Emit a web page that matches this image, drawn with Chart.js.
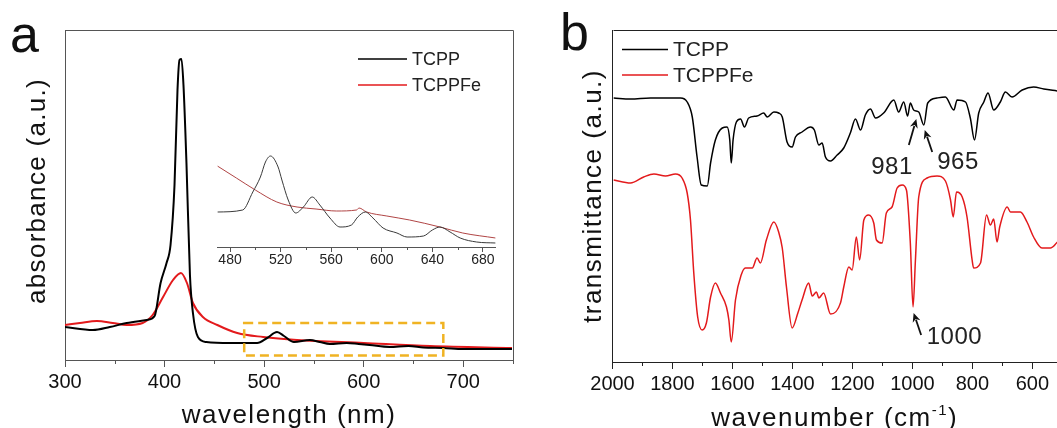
<!DOCTYPE html>
<html>
<head>
<meta charset="utf-8">
<script src="https://cdn.jsdelivr.net/npm/chart.js@4.4.0/dist/chart.umd.min.js"></script>
<style>
  html, body { margin: 0; padding: 0; background: #fff; }
  #wrap { position: relative; width: 1057px; height: 428px; overflow: hidden; }
  #wrap canvas { position: absolute; left: 0; top: 0; }
</style>
</head>
<body>
<div id="wrap">
  <canvas id="uvChart" width="1057" height="428"></canvas>
  <canvas id="insetChart" width="1057" height="428"></canvas>
  <canvas id="irChart" width="1057" height="428"></canvas>
</div>
<script>
// --- DATA (a): UV-vis ---
const seriesNames = ['TCPP', 'TCPPFe'];

const uvWaveTCPP = [300, 328, 345, 362, 382, 390, 396, 402, 406, 410, 413, 415, 417, 419, 422, 425.5, 428.5, 433.5, 442, 466, 493, 503, 513, 520, 530, 546, 556, 566, 583, 595, 606, 626, 645, 660, 680, 700, 749];
const uvAbsTCPP  = [33, 30, 33, 37, 40, 44, 77, 97, 115, 175, 270, 300, 301, 275, 197, 85, 47, 23, 18, 17, 17, 22, 28, 24, 18, 20, 18, 16, 17, 16, 15, 13, 14, 12.5, 12, 11, 11];

const uvWaveFe = [300, 315, 332, 348, 362, 378, 388, 398.5, 408.5, 416.5, 422.5, 428.5, 438.5, 453, 473, 499, 533, 600, 667, 749];
const uvAbsFe  = [35, 37, 39, 37, 35, 37, 45, 63, 80, 87, 77, 57, 43, 35, 27, 23, 20, 17, 14, 12];

const uvMinorTicks = [350, 450, 550, 650, 750];
const zoomRange = [480, 680];
const zoomLevels = [4.5, 37];

// --- DATA (a, inset): 470-690 nm ---
const insetWaveTCPP = [470, 490, 498, 504, 508, 512, 518, 521, 526, 532, 538, 545, 551, 559, 567, 576, 581, 587, 593, 601, 612, 620, 633, 640, 646, 654, 662, 675, 690];
const insetAbsTCPP  = [35, 37, 55, 70, 85, 91, 80, 67, 47, 34, 40, 50, 42, 29, 20, 22, 30, 35, 29, 19, 14, 10, 11, 17, 20, 15, 9, 5, 4];

const insetWaveFe = [470, 485, 500, 517, 533, 548, 564, 580, 582, 588, 604, 622, 646, 664, 690];
const insetAbsFe  = [81, 69, 57, 45, 40, 38, 36, 37, 39, 35, 31, 27, 20, 14, 9];

const insetMinorTicks = [500, 540, 580, 620, 660];

// --- DATA (b): FTIR ---
const irWaveTCPP = [1996, 1940, 1873, 1807, 1773, 1751, 1734, 1718, 1704, 1684, 1673, 1657, 1634, 1618, 1609, 1604, 1598, 1587, 1573, 1560, 1546, 1518, 1496, 1484, 1462, 1446, 1434, 1418, 1401, 1390, 1368, 1340, 1327, 1312, 1301, 1290, 1273, 1251, 1229, 1207, 1190, 1173, 1157, 1140, 1123, 1096, 1062, 1046, 1029, 1016, 1007, 996, 979, 962, 949, 918, 890, 862, 851, 823, 807, 793, 779, 762, 748, 729, 707, 690, 668, 634, 596, 562, 518];
const irTransTCPP = [264, 263, 264, 264, 264, 260, 245, 205, 177, 176, 199, 222, 234, 235, 222, 199, 222, 240, 243, 235, 244, 246, 249, 245, 250, 249, 245, 220, 215, 225, 230, 235, 232, 217, 219, 205, 201, 207, 214, 229, 243, 232, 247, 253, 244, 249, 262, 250, 260, 246, 259, 252, 250, 237, 259, 264, 265, 252, 262, 260, 244, 222, 249, 260, 269, 252, 260, 270, 265, 272, 275, 273, 271];

const irWaveFe = [1996, 1940, 1896, 1862, 1823, 1790, 1768, 1751, 1740, 1729, 1716, 1701, 1687, 1673, 1657, 1640, 1620, 1612, 1604, 1590, 1571, 1557, 1534, 1518, 1507, 1487, 1462, 1446, 1434, 1420, 1401, 1382, 1368, 1346, 1334, 1320, 1312, 1296, 1273, 1240, 1229, 1212, 1201, 1187, 1176, 1162, 1146, 1129, 1120, 1101, 1087, 1068, 1051, 1034, 1020, 1007, 998, 990, 979, 951, 918, 890, 873, 864, 853, 834, 818, 801, 796, 773, 753, 740, 729, 718, 709, 684, 673, 640, 618, 596, 568, 540, 516];
const irTransFe = [182, 179, 185, 188, 186, 188, 184, 169, 142, 89, 45, 32, 39, 65, 79, 69, 55, 42, 20, 62, 87, 94, 94, 104, 99, 122, 140, 130, 114, 75, 34, 49, 62, 79, 66, 70, 64, 69, 48, 59, 75, 95, 92, 125, 102, 142, 147, 139, 122, 119, 149, 155, 174, 177, 172, 119, 55, 102, 165, 184, 186, 181, 162, 145, 170, 165, 145, 102, 94, 99, 147, 137, 143, 120, 135, 155, 150, 150, 140, 125, 114, 114, 120];

const irMinorTicks = [1900, 1700, 1500, 1300, 1100, 900, 700];

// peak marks: label, arrow tail, arrow head, label centre (wavenumber, value)
const markLabels = ['981', '965', '1000'];
const markTails  = [[1012, 217], [934, 210], [971, 27]];
const markHeads  = [[987, 243], [959, 232], [996, 49]];
const markTextAt = [[1068, 195], [848, 200], [860, 25]];

// --- ESTILO ---
const FONT = '"Liberation Sans", Arial, sans-serif';
const BLACK = '#000000';
const RED = '#e31a1c';

function toPts(xs, ys) {
    return xs.map((x, i) => ({ x, y: ys[i] }));
}

function spacedText(ctx, text, x, y, spacing) {
    if ('letterSpacing' in ctx) {
        ctx.letterSpacing = spacing + 'px';
        ctx.fillText(text, x, y);
        ctx.letterSpacing = '0px';
    } else {
        ctx.fillText(text, x, y);
    }
}

function drawMinor(chart, values, len, color) {
    const sx = chart.scales.x;
    const y0 = chart.chartArea.bottom;
    const ctx = chart.ctx;
    ctx.save();
    ctx.strokeStyle = color;
    ctx.lineWidth = 1;
    values.forEach(v => {
        const px = Math.round(sx.getPixelForValue(v)) + 0.5;
        ctx.beginPath();
        ctx.moveTo(px, y0);
        ctx.lineTo(px, y0 + len);
        ctx.stroke();
    });
    ctx.restore();
}

function drawLegend(ctx, x0, y0, gap, lineLen, size) {
    ctx.save();
    ctx.font = size + 'px ' + FONT;
    ctx.textBaseline = 'middle';
    ctx.fillStyle = '#222';
    seriesNames.forEach((name, i) => {
        const y = y0 + i * gap;
        ctx.strokeStyle = i === 0 ? BLACK : RED;
        ctx.lineWidth = 1.5;
        ctx.beginPath();
        ctx.moveTo(x0, y);
        ctx.lineTo(x0 + lineLen, y);
        ctx.stroke();
        ctx.fillText(name, x0 + lineLen + 5, y + 1);
    });
    ctx.restore();
}

function drawArrow(ctx, x1, y1, x2, y2) {
    const ang = Math.atan2(y2 - y1, x2 - x1);
    const hl = 9, hw = 4;
    ctx.beginPath();
    ctx.moveTo(x1, y1);
    ctx.lineTo(x2 - Math.cos(ang) * hl * 0.8, y2 - Math.sin(ang) * hl * 0.8);
    ctx.stroke();
    ctx.beginPath();
    ctx.moveTo(x2, y2);
    ctx.lineTo(x2 - Math.cos(ang) * hl + Math.sin(ang) * hw, y2 - Math.sin(ang) * hl - Math.cos(ang) * hw);
    ctx.lineTo(x2 - Math.cos(ang) * hl * 0.7, y2 - Math.sin(ang) * hl * 0.7);
    ctx.lineTo(x2 - Math.cos(ang) * hl - Math.sin(ang) * hw, y2 - Math.sin(ang) * hl + Math.cos(ang) * hw);
    ctx.closePath();
    ctx.fill();
}

// --- PLUGINS ---
const uvDecor = {
    id: 'uvDecor',
    afterDatasetsDraw(chart) {
        const { ctx, chartArea: a, scales: { x, y } } = chart;
        // caja punteada
        const bx1 = x.getPixelForValue(zoomRange[0]), bx2 = x.getPixelForValue(zoomRange[1]);
        const by1 = y.getPixelForValue(zoomLevels[1]), by2 = y.getPixelForValue(zoomLevels[0]);
        ctx.save();
        ctx.strokeStyle = '#f0b323';
        ctx.lineWidth = 2.5;
        ctx.setLineDash([9, 5]);
        ctx.strokeRect(bx1, by1, bx2 - bx1, by2 - by1);
        ctx.restore();
        // marco
        ctx.save();
        ctx.strokeStyle = '#555';
        ctx.lineWidth = 1;
        ctx.beginPath();
        ctx.moveTo(Math.round(a.left) + 0.5, Math.round(a.top) + 0.5);
        ctx.lineTo(Math.round(a.right) + 0.5, Math.round(a.top) + 0.5);
        ctx.lineTo(Math.round(a.right) + 0.5, Math.round(a.bottom) + 0.5);
        ctx.stroke();
        ctx.restore();
    },
    afterDraw(chart) {
        const { ctx, chartArea: a } = chart;
        drawMinor(chart, uvMinorTicks, 4, '#555');
        drawLegend(ctx, 358, 59, 26, 49, 18);
        ctx.save();
        ctx.fillStyle = '#111';
        ctx.font = '52px ' + FONT;
        ctx.textBaseline = 'alphabetic';
        ctx.textAlign = 'left';
        ctx.fillText('a', 10, 52);
        ctx.font = '26px ' + FONT;
        ctx.textAlign = 'center';
        ctx.textBaseline = 'middle';
        spacedText(ctx, 'wavelength (nm)', (a.left + a.right) / 2, 416, 1.5);
        ctx.translate(38, 191);
        ctx.rotate(-Math.PI / 2);
        spacedText(ctx, 'absorbance (a.u.)', 0, 0, 1.3);
        ctx.restore();
    }
};

const insetDecor = {
    id: 'insetDecor',
    afterDraw(chart) {
        drawMinor(chart, insetMinorTicks, 3, '#555');
    }
};

const irDecor = {
    id: 'irDecor',
    afterDraw(chart) {
        const { ctx, chartArea: a, scales: { x, y } } = chart;
        drawMinor(chart, irMinorTicks, 4, '#222');
        // linea superior
        ctx.save();
        ctx.strokeStyle = '#222';
        ctx.lineWidth = 1;
        ctx.beginPath();
        ctx.moveTo(Math.round(a.left) + 0.5, Math.round(a.top) + 0.5);
        ctx.lineTo(a.right, Math.round(a.top) + 0.5);
        ctx.stroke();
        ctx.restore();

        drawLegend(ctx, 622, 49.5, 25.5, 46, 21);

        // flechas y numeros
        ctx.save();
        ctx.strokeStyle = '#111';
        ctx.fillStyle = '#111';
        ctx.lineWidth = 1.8;
        markLabels.forEach((txt, i) => {
            drawArrow(ctx,
                x.getPixelForValue(markTails[i][0]), y.getPixelForValue(markTails[i][1]),
                x.getPixelForValue(markHeads[i][0]), y.getPixelForValue(markHeads[i][1]));
        });
        ctx.font = '24px ' + FONT;
        ctx.textAlign = 'center';
        ctx.textBaseline = 'middle';
        ctx.fillStyle = '#222';
        markLabels.forEach((txt, i) => {
            spacedText(ctx, txt, x.getPixelForValue(markTextAt[i][0]), y.getPixelForValue(markTextAt[i][1]), 0.5);
        });
        ctx.restore();

        // titulos
        ctx.save();
        ctx.fillStyle = '#111';
        ctx.font = '52px ' + FONT;
        ctx.textAlign = 'left';
        ctx.textBaseline = 'alphabetic';
        ctx.fillText('b', 560, 50);

        const sp = 1.5;
        if ('letterSpacing' in ctx) ctx.letterSpacing = sp + 'px';
        ctx.font = '26px ' + FONT;
        const main = 'wavenumber (cm';
        const wMain = ctx.measureText(main).width;
        const wClose = ctx.measureText(')').width;
        ctx.font = '15px ' + FONT;
        const wSup = ctx.measureText('-1').width;
        const total = wMain + wSup + wClose;
        let tx = (a.left + a.right) / 2 - total / 2;
        const base = 426;
        ctx.font = '26px ' + FONT;
        ctx.fillText(main, tx, base);
        tx += wMain;
        ctx.font = '15px ' + FONT;
        ctx.fillText('-1', tx, base - 11);
        tx += wSup;
        ctx.font = '26px ' + FONT;
        ctx.fillText(')', tx, base);

        ctx.textAlign = 'center';
        ctx.textBaseline = 'middle';
        ctx.translate(594, 196);
        ctx.rotate(-Math.PI / 2);
        ctx.fillText('transmittance (a.u.)', 0, 0);
        if ('letterSpacing' in ctx) ctx.letterSpacing = '0px';
        ctx.restore();
    }
};

// --- GRAFICOS ---
const tickFont = { family: FONT, size: 20 };
const plainNum = v => String(v);

new Chart(document.getElementById('uvChart'), {
    type: 'line',
    data: {
        datasets: [
            { label: seriesNames[0], data: toPts(uvWaveTCPP, uvAbsTCPP), borderColor: BLACK, borderWidth: 2 },
            { label: seriesNames[1], data: toPts(uvWaveFe, uvAbsFe), borderColor: RED, borderWidth: 2 }
        ]
    },
    options: {
        responsive: false, animation: false, devicePixelRatio: 1,
        layout: { padding: { left: 0, top: 30, right: 1057 - 513, bottom: 0 } },
        elements: { point: { radius: 0 }, line: { cubicInterpolationMode: 'monotone' } },
        plugins: { legend: { display: false }, tooltip: { enabled: false } },
        scales: {
            x: {
                type: 'linear', min: 300, max: 750,
                afterFit: s => { s.height = 68; },
                ticks: { stepSize: 100, includeBounds: false, autoSkip: false, maxRotation: 0, padding: 3, color: '#111', font: tickFont, callback: plainNum },
                grid: { display: true, drawOnChartArea: false, tickLength: 7, color: '#555' },
                border: { color: '#555', width: 1 }
            },
            y: {
                min: 0, max: 330,
                afterFit: s => { s.width = 65; },
                ticks: { display: false },
                grid: { display: false },
                border: { color: '#555', width: 1 }
            }
        }
    },
    plugins: [uvDecor]
});

new Chart(document.getElementById('insetChart'), {
    type: 'line',
    data: {
        datasets: [
            { data: toPts(insetWaveTCPP, insetAbsTCPP), borderColor: '#3a3a3a', borderWidth: 1 },
            { data: toPts(insetWaveFe, insetAbsFe), borderColor: '#b04545', borderWidth: 1 }
        ]
    },
    options: {
        responsive: false, animation: false, devicePixelRatio: 1,
        layout: { padding: { left: 217.4, top: 140, right: 1057 - 495.6, bottom: 0 } },
        elements: { point: { radius: 0 }, line: { cubicInterpolationMode: 'monotone' } },
        plugins: { legend: { display: false }, tooltip: { enabled: false } },
        scales: {
            x: {
                type: 'linear', min: 470, max: 690,
                afterFit: s => { s.height = 428 - 247; },
                ticks: { stepSize: 40, includeBounds: false, autoSkip: false, maxRotation: 0, padding: 0, color: '#222', font: { family: FONT, size: 14 }, callback: plainNum },
                grid: { display: true, drawOnChartArea: false, tickLength: 5, color: '#555' },
                border: { color: '#555', width: 1 }
            },
            y: { display: false, min: 0, max: 107 }
        }
    },
    plugins: [insetDecor]
});

new Chart(document.getElementById('irChart'), {
    type: 'line',
    data: {
        datasets: [
            { label: seriesNames[0], data: toPts(irWaveTCPP, irTransTCPP), borderColor: BLACK, borderWidth: 1.5 },
            { label: seriesNames[1], data: toPts(irWaveFe, irTransFe), borderColor: RED, borderWidth: 1.5 }
        ]
    },
    options: {
        responsive: false, animation: false, devicePixelRatio: 1,
        layout: { padding: { left: 0, top: 30, right: 0, bottom: 0 } },
        elements: { point: { radius: 0 }, line: { cubicInterpolationMode: 'monotone' } },
        plugins: { legend: { display: false }, tooltip: { enabled: false } },
        scales: {
            x: {
                type: 'linear', min: 518, max: 2000, reverse: true,
                afterFit: s => { s.height = 428 - 362; },
                ticks: { stepSize: 200, includeBounds: false, autoSkip: false, maxRotation: 0, padding: 3, color: '#111', font: tickFont, callback: plainNum },
                grid: { display: true, drawOnChartArea: false, tickLength: 7, color: '#222' },
                border: { color: '#222', width: 1 }
            },
            y: {
                min: 0, max: 332,
                afterFit: s => { s.width = 612.5; },
                ticks: { display: false },
                grid: { display: false },
                border: { color: '#222', width: 1 }
            }
        }
    },
    plugins: [irDecor]
});
</script>
</body>
</html>
